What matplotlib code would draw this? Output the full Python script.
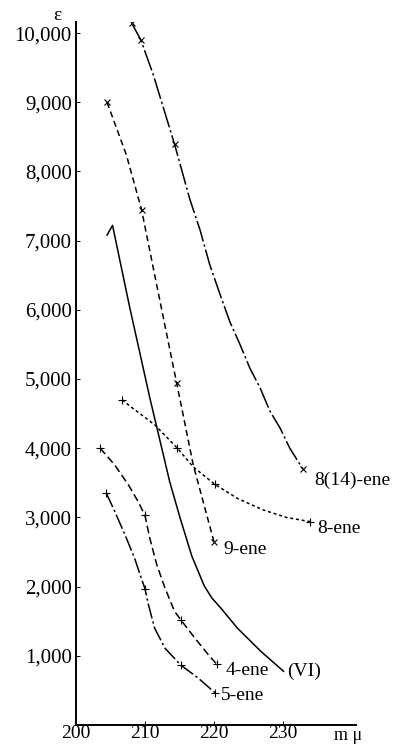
import numpy as np
import matplotlib.pyplot as plt

plt.rcParams['font.family'] = ['Liberation Serif', 'DejaVu Serif']

ene814_x = [208.1, 209.4, 214.3, 232.9]
ene814_y = [10140, 9900, 8390, 3700]
ene9_x = [204.5, 209.5, 214.6, 220.0]
ene9_y = [9000, 7450, 4940, 2650]
ene8_x = [206.7, 214.7, 220.1, 233.9]
ene8_y = [4700, 4000, 3480, 2940]
ene4_x = [203.5, 210.0, 215.2, 220.4]
ene4_y = [4000, 3030, 1520, 880]
ene5_x = [204.4, 210.0, 215.2, 220.2]
ene5_y = [3350, 1970, 865, 462]

curve814_x = [208.1, 209.4, 211.2, 214.3, 216.5, 218.0, 219.4, 220.9, 222.3, 223.8, 225.2,
              226.7, 228.1, 229.6, 231.0, 232.9]
curve814_y = [10140, 9900, 9400, 8390, 7600, 7150, 6650, 6220, 5830, 5495, 5160,
              4870, 4540, 4290, 4000, 3700]
curve9_x = [204.5, 207.3, 209.5, 211.7, 214.6, 217.0, 220.0]
curve9_y = [9000, 8240, 7450, 6360, 4940, 3760, 2650]
curveVI_x = [204.5, 205.3, 207.8, 210.7, 212.2, 213.6, 215.1, 216.8, 218.6, 219.7, 221.0,
             223.4, 226.8, 230.1]
curveVI_y = [7080, 7220, 6030, 4730, 4100, 3510, 2990, 2440, 2010, 1835, 1690,
             1400, 1065, 776]
curve8_x = [206.7, 207.8, 211.4, 214.7, 217.0, 220.1, 223.5, 227.1, 230.5, 233.9]
curve8_y = [4700, 4610, 4340, 4000, 3730, 3480, 3270, 3110, 3000, 2940]
curve4_x = [203.5, 205.6, 207.6, 209.0, 210.0, 210.7, 211.7, 212.9, 214.3, 215.2, 217.2,
            219.2, 220.4]
curve4_y = [4000, 3760, 3470, 3230, 3030, 2700, 2320, 1980, 1640, 1520, 1260,
            1015, 880]
curve5_x = [204.4, 205.6, 207.1, 208.5, 209.3, 210.0, 210.5, 211.4, 212.9, 215.2, 217.7,
            220.2]
curve5_y = [3350, 3090, 2750, 2410, 2170, 1970, 1740, 1400, 1110, 865, 680,
            462]

y_ticks = [1000, 2000, 3000, 4000, 5000, 6000, 7000, 8000, 9000, 10000]
y_labels = ['1,000', '2,000', '3,000', '4,000', '5,000', '6,000', '7,000', '8,000', '9,000', '10,000']
x_ticks = [200, 210, 220, 230]
x_labels = ['200', '210', '220', '230']

fig = plt.figure(figsize=(4.08, 7.44), dpi=100)
ax = fig.add_axes([76 / 408, 19 / 744, 280 / 408, 703 / 744])

lw = 1.1
ax.plot(curve814_x, curve814_y, color='black', lw=lw, dashes=(14, 2, 1.5, 2))
ax.plot(curve9_x, curve9_y, color='black', lw=lw, dashes=(4, 2.5))
ax.plot(curveVI_x, curveVI_y, color='black', lw=lw)
ax.plot(curve8_x, curve8_y, color='black', lw=lw, dashes=(2, 1.8))
ax.plot(curve4_x, curve4_y, color='black', lw=lw, dashes=(5, 2.5))
ax.plot(curve5_x, curve5_y, color='black', lw=lw, dashes=(10, 2, 1.5, 2))

ax.plot(ene814_x, ene814_y, 'x', color='black', ms=5, mew=0.8)
ax.plot(ene9_x, ene9_y, 'x', color='black', ms=5, mew=0.8)
ax.plot(ene8_x, ene8_y, '+', color='black', ms=6, mew=0.8)
ax.plot(ene4_x, ene4_y, '+', color='black', ms=6, mew=0.8)
ax.plot(ene5_x, ene5_y, '+', color='black', ms=6, mew=0.8)

lab = 14
ax.text(234.6, 3530, '8(14)-ene', fontsize=lab, va='center', ha='left')
ax.text(221.4, 2530, '9-ene', fontsize=lab, va='center', ha='left')
ax.text(235.0, 2840, '8-ene', fontsize=lab, va='center', ha='left')
ax.text(221.7, 790, '4-ene', fontsize=lab, va='center', ha='left')
ax.text(230.6, 776, '(VI)', fontsize=lab, va='center', ha='left')
ax.text(221.0, 423, '5-ene', fontsize=lab, va='center', ha='left')

ax.set_xlim(200, 240.6)
ax.set_ylim(0, 10160)
ax.set_xticks(x_ticks)
ax.set_xticklabels(x_labels, fontsize=14)
ax.set_yticks(y_ticks)
ax.set_yticklabels(y_labels, fontsize=15)
ax.tick_params(direction='in', length=3, width=0.7, pad=3)
ax.tick_params(axis='x', pad=0)
for s in ['top', 'right']:
    ax.spines[s].set_visible(False)
for s in ['left', 'bottom']:
    ax.spines[s].set_linewidth(1.4)

fig.text(57 / 408, 1 - 15 / 744, 'ε', fontsize=14, ha='center', va='center')
fig.text(348 / 408, 1 - 735 / 744, 'm μ', fontsize=13, ha='center', va='center')

fig.savefig('out.png', dpi=100)
